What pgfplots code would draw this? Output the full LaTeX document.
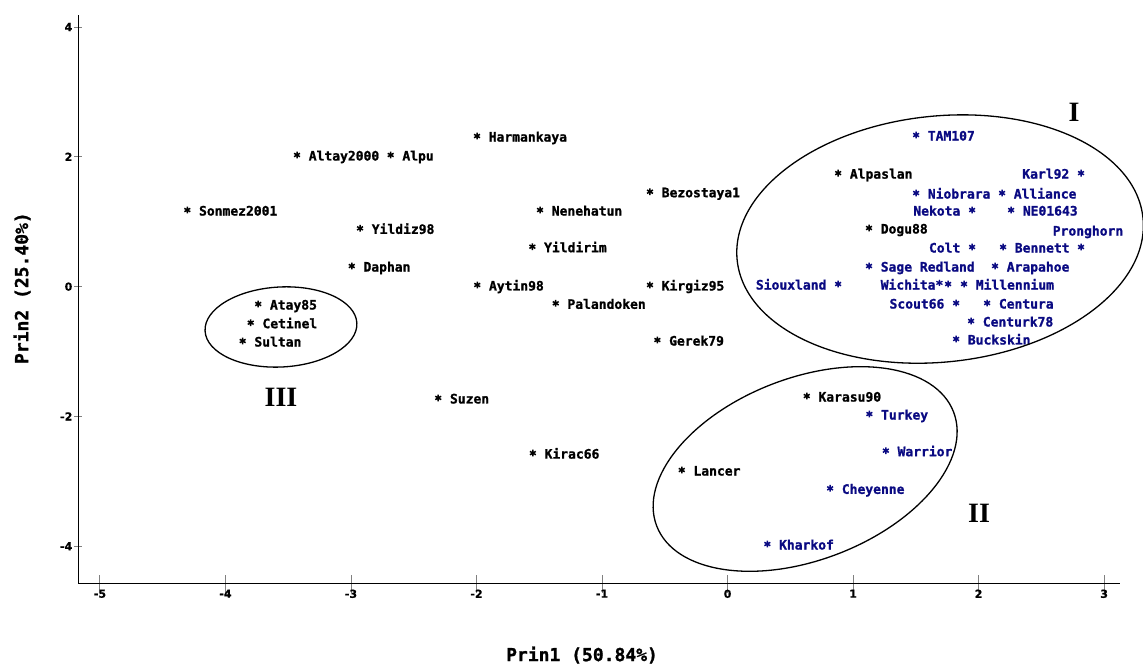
\documentclass[border=0pt]{standalone}
\usepackage{pgfplots}
\pgfplotsset{compat=1.18}
\usepackage{fontspec}
\newfontfamily\lbl{DejaVu Sans Mono}[BoldFeatures={FakeBold=1.2}]
\newfontfamily\tck{DejaVu Sans}[BoldFeatures={FakeBold=0.8}]
\newfontfamily\rom{Liberation Serif}
\definecolor{navy}{RGB}{10,10,130}
\newcommand\lblfont{\lbl\bfseries\fontsize{13}{13}\selectfont}
\pgfplotsset{
  pts/.style={only marks, mark=asterisk, mark size=3.4pt, line width=1.5pt,
    nodes near coords, point meta=explicit symbolic},
  rlab/.style={every node near coord/.append style={anchor=base west, xshift=11pt, yshift=-5.5pt, inner sep=0pt, font=\lblfont, text=#1}},
  llab/.style={every node near coord/.append style={anchor=base east, xshift=-11pt, yshift=-5.5pt, inner sep=0pt, font=\lblfont, text=#1}},
}
\begin{document}
\begin{tikzpicture}
\useasboundingbox (0,0) rectangle (1143pt,666pt);
\begin{axis}[
  at={(78pt,82pt)}, anchor=south west,
  scale only axis, width=1042pt, height=569pt,
  xmin=-5.175, xmax=3.127, ymin=-4.582, ymax=4.185,
  axis x line=bottom, axis y line=left,
  axis line style={-, line width=1pt},
  xtick={-5,-4,-3,-2,-1,0,1,2,3}, xticklabels={-5,-4,-3,-2,-1,0,1,2,3},
  ytick={-4,-2,0,2,4}, yticklabels={-4,-2,0,2,4},
  tick align=center,
  xtick style={line width=1pt, /pgfplots/major tick length=18pt},
  ytick style={line width=1pt, /pgfplots/major tick length=8pt},
  ticklabel style={font=\tck\bfseries\fontsize{11}{11}\selectfont},
  xlabel={Prin1 (50.84\%)}, ylabel={Prin2 (25.40\%)},
  xlabel style={at={(axis description cs:0.4837,-0.1248)}, anchor=center, font=\lbl\bfseries\fontsize{18}{18}\selectfont},
  ylabel style={at={(axis description cs:-0.0537,0.52)}, anchor=center, font=\lbl\bfseries\fontsize{18}{18}\selectfont},
  clip=false,
]
% Turkish cultivars (black), labels to the right
\addplot[pts, black, rlab=black] coordinates {
  (-1.996,2.320) [Harmankaya]
  (-3.430,2.028) [Altay2000]
  (-2.684,2.028) [Alpu]
  (-4.304,1.180) [Sonmez2001]
  (-2.928,0.898) [Yildiz98]
  (-2.994,0.317) [Daphan]
  (-1.994,0.025) [Aytin98]
  (-3.739,-0.268) [Atay85]
  (-3.799,-0.556) [Cetinel]
  (-3.863,-0.838) [Sultan]
  (-1.494,1.180) [Nenehatun]
  (-1.555,0.615) [Yildirim]
  (-0.618,1.462) [Bezostaya1]
  (-0.618,0.025) [Kirgiz95]
  (-1.369,-0.257) [Palandoken]
  (-0.559,-0.823) [Gerek79]
  (-2.305,-1.715) [Suzen]
  (-1.551,-2.565) [Kirac66]
  (-0.365,-2.826) [Lancer]
  (0.631,-1.686) [Karasu90]
  (0.881,1.749) [Alpaslan]
  (1.127,0.903) [Dogu88]
};
% US cultivars (navy), labels to the right
\addplot[pts, navy, rlab=navy] coordinates {
  (1.130,-1.963) [Turkey]
  (1.261,-2.528) [Warrior]
  (0.817,-3.108) [Cheyenne]
  (0.317,-3.966) [Kharkof]
  (1.502,2.336) [TAM107]
  (1.502,1.442) [Niobrara]
  (2.187,1.442) [Alliance]
  (2.259,1.180) [NE01643]
  (2.195,0.610) [Bennett]
  (1.127,0.317) [Sage Redland]
  (2.131,0.317) [Arapahoe]
  (1.884,0.040) [Millennium]
  (2.068,-0.253) [Centura]
  (1.940,-0.530) [Centurk78]
  (1.821,-0.807) [Buckskin]
};
% US cultivars (navy), labels to the left
\addplot[pts, navy, llab=navy] coordinates {
  (2.816,1.749) [Karl92]
  (1.948,1.180) [Nekota]
  (1.948,0.610) [Colt]
  (0.881,0.040) [Siouxland]
  (1.821,-0.253) [Scout66]
};
\addplot[pts, navy, every node near coord/.append style={anchor=base east, xshift=-4pt, yshift=-5.5pt, inner sep=0pt, font=\lblfont, text=navy}] coordinates {
  (1.757,0.040) [Wichita*]
};
\addplot[pts, navy, every node near coord/.append style={anchor=base, xshift=7pt, yshift=11.5pt, inner sep=0pt, font=\lblfont, text=navy}] coordinates {
  (2.816,0.610) [Pronghorn]
};
\coordinate (c1) at (axis cs:1.693,0.733);
\coordinate (c2) at (axis cs:0.618,-2.810);
\coordinate (c3) at (axis cs:-3.558,-0.622);
\node[font=\rom\bfseries\fontsize{28}{28}\selectfont] at (axis cs:2.761,2.689) {I};
\node[font=\rom\bfseries\fontsize{28}{28}\selectfont] at (axis cs:2.004,-3.488) {II};
\node[font=\rom\bfseries\fontsize{28}{28}\selectfont] at (axis cs:-3.558,-1.700) {III};
\end{axis}
\draw[line width=1.3pt, rotate around={6:(c1)}] (c1) ellipse [x radius=204pt, y radius=123pt];
\draw[line width=1.3pt, rotate around={21:(c2)}] (c2) ellipse [x radius=159pt, y radius=91pt];
\draw[line width=1.3pt, rotate around={3:(c3)}] (c3) ellipse [x radius=76pt, y radius=40pt];
\end{tikzpicture}
\end{document}
